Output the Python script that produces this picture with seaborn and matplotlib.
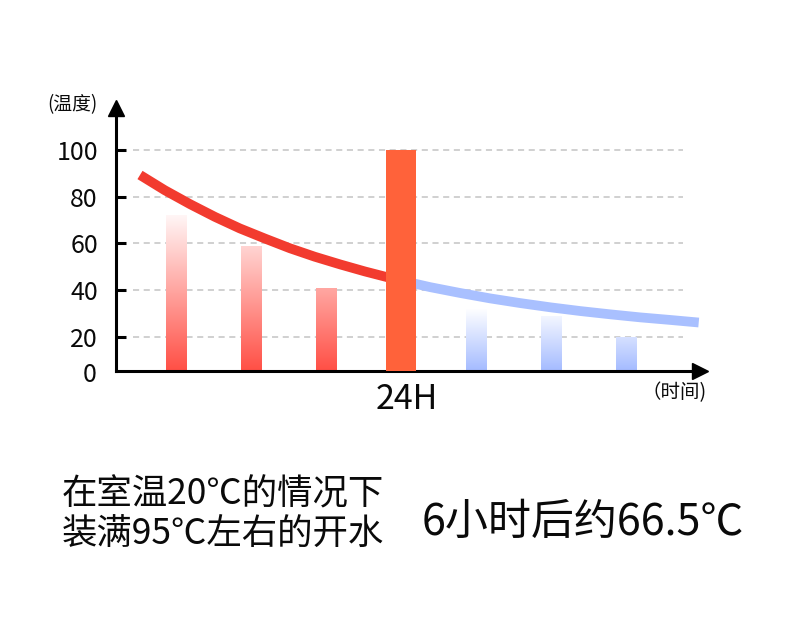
import numpy as np
import pandas as pd
import matplotlib.pyplot as plt
from matplotlib.colors import LinearSegmentedColormap
import seaborn as sns

sns.set_theme(style="white")
plt.rcParams['font.family'] = ['Noto Sans CJK SC', 'DejaVu Sans']

# bars, one per slot along the time axis
slots = [0, 1, 2, 3, 4, 5, 6]
temps = [72, 59, 41, 100, 32, 29, 20]
groups = ['before', 'before', 'before', 'peak', 'after', 'after', 'after']
tick_slot = 3
tick_label = '24H'

# cooling curve (x in slot units)
red_x = [-0.48, -0.15, 0.19, 0.52, 0.85, 1.19, 1.52, 1.85, 2.19, 2.52, 2.92]
red_y = [89.2, 82.7, 76.7, 71.3, 66.4, 62.0, 57.9, 54.3, 51.0, 48.0, 44.7]
blue_x = [2.99, 3.39, 3.79, 4.19, 4.59, 4.99, 5.39, 5.79, 6.19, 6.59, 6.97]
blue_y = [44.2, 41.3, 38.8, 36.5, 34.5, 32.7, 31.1, 29.7, 28.4, 27.3, 26.2]

y_ticks = [20, 40, 60, 80, 100]
y_bottom, y_top = 5.5, 117.8
x_left, x_right = -0.8, 6.987

df = pd.DataFrame({'slot': slots, 'temp': temps, 'group': groups})

fig = plt.figure(figsize=(7.9, 6.17), dpi=100)
ax = fig.add_axes([116 / 790, 246 / 617, 584 / 790, 263 / 617])


def bars(sub, width, color, zorder):
    n0 = len(ax.patches)
    sns.barplot(data=sub, x='slot', y='temp', order=slots, width=width,
                color=color, saturation=1, errorbar=None, linewidth=0,
                zorder=zorder, ax=ax)
    return ax.patches[n0:]


def gradient(patches, c_top, c_bottom, top):
    cmap = LinearSegmentedColormap.from_list('g', [c_top, c_bottom])
    grad = np.linspace(1, 0, 256).reshape(-1, 1)
    for p in patches:
        x0, w = p.get_x(), p.get_width()
        im = ax.imshow(grad, cmap=cmap, vmin=0, vmax=1, aspect='auto',
                       origin='lower', extent=(x0, x0 + w, y_bottom, top),
                       zorder=p.get_zorder())
        im.set_clip_path(p)
        p.set_facecolor('none')


# dashed grid, not reaching the axis
ax.hlines(y_ticks, -0.573, 6.76, colors='#c4c4c4', linewidth=1.1,
          linestyles=(0, (4, 3)), zorder=0)

# cooling curve
sns.lineplot(x=red_x, y=red_y, sort=False, color='#f23b2f', linewidth=7,
             solid_capstyle='butt', zorder=2, ax=ax)
sns.lineplot(x=blue_x, y=blue_y, sort=False, color='#a9c0ff', linewidth=7,
             solid_capstyle='butt', zorder=2, ax=ax)

red_bars = bars(df[df.group == 'before'], 0.27, '#ff4f45', 2.5)
gradient(red_bars, '#fff6f6', '#ff4f45', 72)
bars(df[df.group == 'peak'], 0.4, '#ff623a', 3)
blue_bars = bars(df[df.group == 'after'], 0.27, '#a4bbff', 2.5)
gradient(blue_bars, '#ffffff', '#a4bbff', 32)

ax.set_xlim(x_left, x_right)
ax.set_ylim(y_bottom, y_top)
ax.set_xlabel('')
ax.set_ylabel('')

# label sits a touch right of the bar centre in the original
ax.set_xticks([tick_slot + 0.08])
ax.set_xticklabels([tick_label])
ax.set_yticks(y_ticks)
ax.set_yticklabels([str(v) for v in y_ticks])
ax.tick_params(axis='y', direction='in', length=7, width=2.2, color='black',
               labelsize=18, pad=13, left=True, labelcolor='#0a0a0a')
ax.tick_params(axis='x', length=0, labelsize=24.5, pad=8, colors='#0a0a0a')

for side in ['top', 'right']:
    ax.spines[side].set_visible(False)
for side in ['left', 'bottom']:
    ax.spines[side].set_color('black')
    ax.spines[side].set_linewidth(2.2)

# arrow heads
ax.plot(0, 1, marker='^', color='black', ms=12, transform=ax.transAxes, clip_on=False)
ax.plot(1, 0, marker='>', color='black', ms=12, transform=ax.transAxes, clip_on=False)

fig.text(97 / 790, 1 - 375 / 617, '0', ha='right', va='center', fontsize=18, color='#0a0a0a')
fig.text(72 / 790, 1 - 105 / 617, '(温度)', ha='center', va='center', fontsize=13.5, color='#0a0a0a')
fig.text(707 / 790, 1 - 393 / 617, '（时间)', ha='right', va='center', fontsize=14, color='#0a0a0a')

fig.text(62 / 790, 1 - 494 / 617, '在室温20℃的情况下', ha='left', va='center', fontsize=25.5, color='#0a0a0a')
fig.text(62 / 790, 1 - 535 / 617, '装满95℃左右的开水', ha='left', va='center', fontsize=25.5, color='#0a0a0a')
fig.text(422 / 790, 1 - 523 / 617, '6小时后约66.5℃', ha='left', va='center', fontsize=31, color='#0a0a0a')

fig.savefig('out.png', dpi=100)
